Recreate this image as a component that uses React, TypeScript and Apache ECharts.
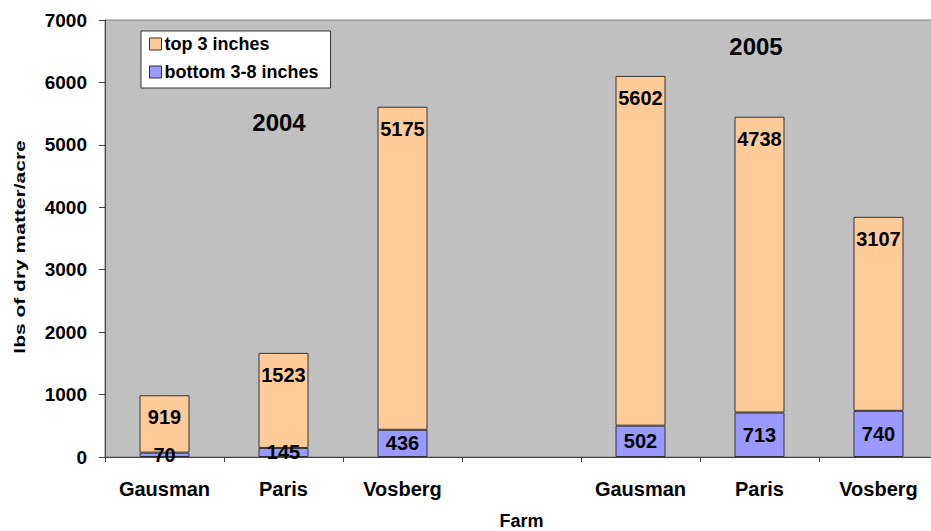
import React, { useEffect, useRef } from "react";
import * as echarts from "echarts";

const categories = ["Gausman", "Paris", "Vosberg", "", "Gausman", "Paris", "Vosberg"];
const bottomValues = [70, 145, 436, null, 502, 713, 740];
const topValues = [919, 1523, 5175, null, 5602, 4738, 3107];
const yTicks = { min: 0, max: 7000, interval: 1000 };
const seriesNames = ["top 3 inches", "bottom 3-8 inches"];
const yearLabels = ["2004", "2005"];

const FONT = "Arial, 'Liberation Sans', Helvetica, sans-serif";

export default function App() {
  const ref = useRef<HTMLDivElement>(null);
  useEffect(() => {
    if (!ref.current) return;
    const chart = echarts.init(ref.current, null, { renderer: "svg" });
    const labelStyle = {
      show: true,
      color: "#000",
      fontWeight: "bold",
      fontSize: 20,
      fontFamily: FONT,
    };
    chart.setOption({
      animation: false,
      backgroundColor: "#fff",
      grid: {
        left: 105,
        right: -7,
        top: 20,
        bottom: 74,
        outerBoundsMode: "none",
        containLabel: false,
        show: true,
        backgroundColor: "#C0C0C0",
        borderColor: "#808080",
        borderWidth: 1,
      },
      legend: {
        orient: "vertical",
        left: 141,
        top: 31,
        data: seriesNames,
        backgroundColor: "#fff",
        borderColor: "#333",
        borderWidth: 1,
        padding: [4, 12, 7, 8],
        itemGap: 10,
        itemWidth: 12,
        itemHeight: 12,
        icon: "rect",
        itemStyle: { borderColor: "#333", borderWidth: 1 },
        textStyle: { fontSize: 18, fontWeight: "bold", color: "#000", fontFamily: FONT, padding: [0, 0, 0, -2] },
      },
      xAxis: {
        type: "category",
        data: categories,
        boundaryGap: true,
        name: "Farm",
        nameLocation: "middle",
        nameGap: 56,
        nameTextStyle: { fontSize: 18, lineHeight: 16, fontWeight: "bold", color: "#000", fontFamily: FONT },
        axisLine: { show: true, lineStyle: { color: "#444", width: 1 } },
        axisTick: { show: true, alignWithLabel: false, length: 5, lineStyle: { color: "#444" } },
        axisLabel: { fontSize: 20, fontWeight: "bold", color: "#000", fontFamily: FONT, margin: 22, interval: 0 },
        splitLine: { show: false },
      },
      yAxis: {
        type: "value",
        min: yTicks.min,
        max: yTicks.max,
        interval: yTicks.interval,
        axisLine: { show: true, lineStyle: { color: "#444", width: 1 } },
        axisTick: { show: true, length: 6, lineStyle: { color: "#444" } },
        axisLabel: {
          fontSize: 19,
          fontWeight: "bold",
          color: "#000",
          fontFamily: FONT,
          margin: 18,
          formatter: (v: number) => String(v),
        },
        splitLine: { show: false },
      },
      series: [
        {
          name: seriesNames[1],
          type: "bar",
          stack: "total",
          data: bottomValues,
          barWidth: 50,
          itemStyle: { color: "#9999FF", borderColor: "#333", borderWidth: 1 },
          label: { ...labelStyle, position: "inside" },
        },
        {
          name: seriesNames[0],
          type: "bar",
          stack: "total",
          data: topValues,
          barWidth: 50,
          itemStyle: { color: "#FFCC99", borderColor: "#333", borderWidth: 1 },
          label: { ...labelStyle, position: "insideTop", distance: 12 },
        },
      ],
      graphic: [
        {
          type: "text",
          x: 20,
          y: 247,
          rotation: Math.PI / 2,
          scaleX: 1.4,
          style: {
            text: "lbs of dry matter/acre",
            fontSize: 15,
            fontWeight: "bold",
            fontFamily: FONT,
            fill: "#000",
            align: "center",
            verticalAlign: "middle",
          },
        },
        {
          type: "text",
          x: 279,
          y: 122,
          style: {
            text: yearLabels[0],
            fontSize: 24,
            fontWeight: "bold",
            fontFamily: FONT,
            fill: "#000",
            align: "center",
            verticalAlign: "middle",
          },
        },
        {
          type: "text",
          x: 756,
          y: 46,
          style: {
            text: yearLabels[1],
            fontSize: 24,
            fontWeight: "bold",
            fontFamily: FONT,
            fill: "#000",
            align: "center",
            verticalAlign: "middle",
          },
        },
      ],
    });
    return () => chart.dispose();
  }, []);
  return <div ref={ref} style={{ width: 931, height: 531, position: "absolute", left: 0, top: 0 }} />;
}
